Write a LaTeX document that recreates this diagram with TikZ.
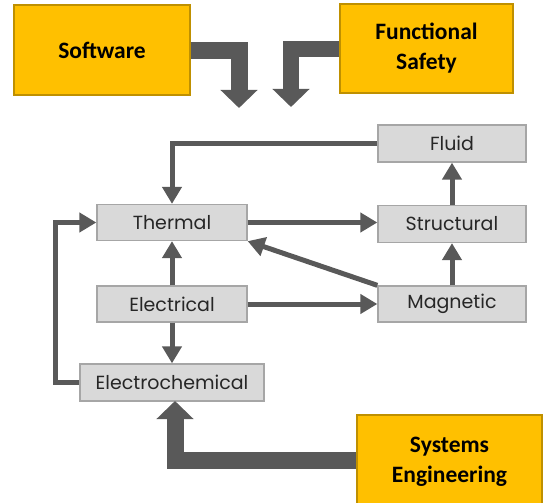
\documentclass[tikz,border=0pt]{standalone}
\usepackage{fontspec}
\newfontfamily\grayfont{Poppins}
\newfontfamily\goldfont{Carlito}
\usetikzlibrary{arrows.meta}
\definecolor{gold}{HTML}{FFC000}
\definecolor{golddark}{HTML}{BF9000}
\definecolor{boxgray}{HTML}{D9D9D9}
\definecolor{boxline}{HTML}{A6A6A6}
\definecolor{arrowgray}{HTML}{595959}
\tikzset{
  graybox/.style={draw=boxline, fill=boxgray, line width=1.3pt, inner sep=0pt,
    minimum height=36pt, font=\grayfont\fontsize{19}{22}\selectfont, text=black!85},
  goldbox/.style={draw=golddark, fill=gold, line width=1.3pt, inner sep=0pt,
    align=center, font=\goldfont\bfseries\fontsize{23.5}{30}\selectfont},
  conn/.style={draw=arrowgray, line width=5pt, -{Triangle[width=19pt,length=17pt]}},
  bigconn/.style={draw=arrowgray, line width=17pt, line join=miter,
    -{Triangle[width=36pt,length=18pt]}}
}
\begin{document}
\begin{tikzpicture}[x=1pt,y=-1pt]
\useasboundingbox (0,0) rectangle (550,503);
\clip (0,0) rectangle (550,503);
% gold boxes
\node[goldbox, minimum width=176pt, minimum height=90pt] (sw) at (102,50) {Software};
\node[goldbox, minimum width=173pt, minimum height=89pt] (fs) at (426.5,48.5) {Functional\\Safety};
\node[goldbox, minimum width=185pt, minimum height=94pt] (se) at (449.5,462) {Systems\\Engineering};
% gray boxes
\node[graybox, minimum width=150pt] (th) at (172,222.5) {Thermal};
\node[graybox, minimum width=148pt, minimum height=37pt] (st) at (452,224) {Structural};
\node[graybox, minimum width=148pt, minimum height=37pt] (fl) at (452,143.5) {Fluid};
\node[graybox, minimum width=150pt] (el) at (172,304) {Electrical};
\node[graybox, minimum width=148pt] (mg) at (452,304) {Magnetic};
\node[graybox, minimum width=184pt, minimum height=37pt] (ec) at (172,382.5) {Electrochemical};
% coordinates for big arrows
\coordinate (swt) at (239,108);
\coordinate (fst) at (291,107);
\coordinate (ect) at (175,401);
\coordinate (loop) at (55,382.5);
% big arrows
\draw[bigconn] (sw.east |- 0,51) -| (swt);
\draw[bigconn, line width=16pt] (fs.west |- 0,49.5) -| (fst);
\draw[bigconn] (se.west |- 0,460) -| (ect);
% connectors
\draw[conn] (fl.west) -| (th.north);
\draw[conn] (th.east) -- (th.east -| st.west);
\draw[conn] (mg.north west) -- (th.south east);
\draw[conn] (el.north) -- (th.south);
\draw[conn] (st.north) -- (fl.south);
\draw[conn] (mg.north) -- (st.south);
\draw[conn] (el.east) -- (mg.west);
\draw[conn] (el.south) -- (ec.north);
\draw[conn] (ec.west) -- (loop) |- (th.west);
\end{tikzpicture}
\end{document}
